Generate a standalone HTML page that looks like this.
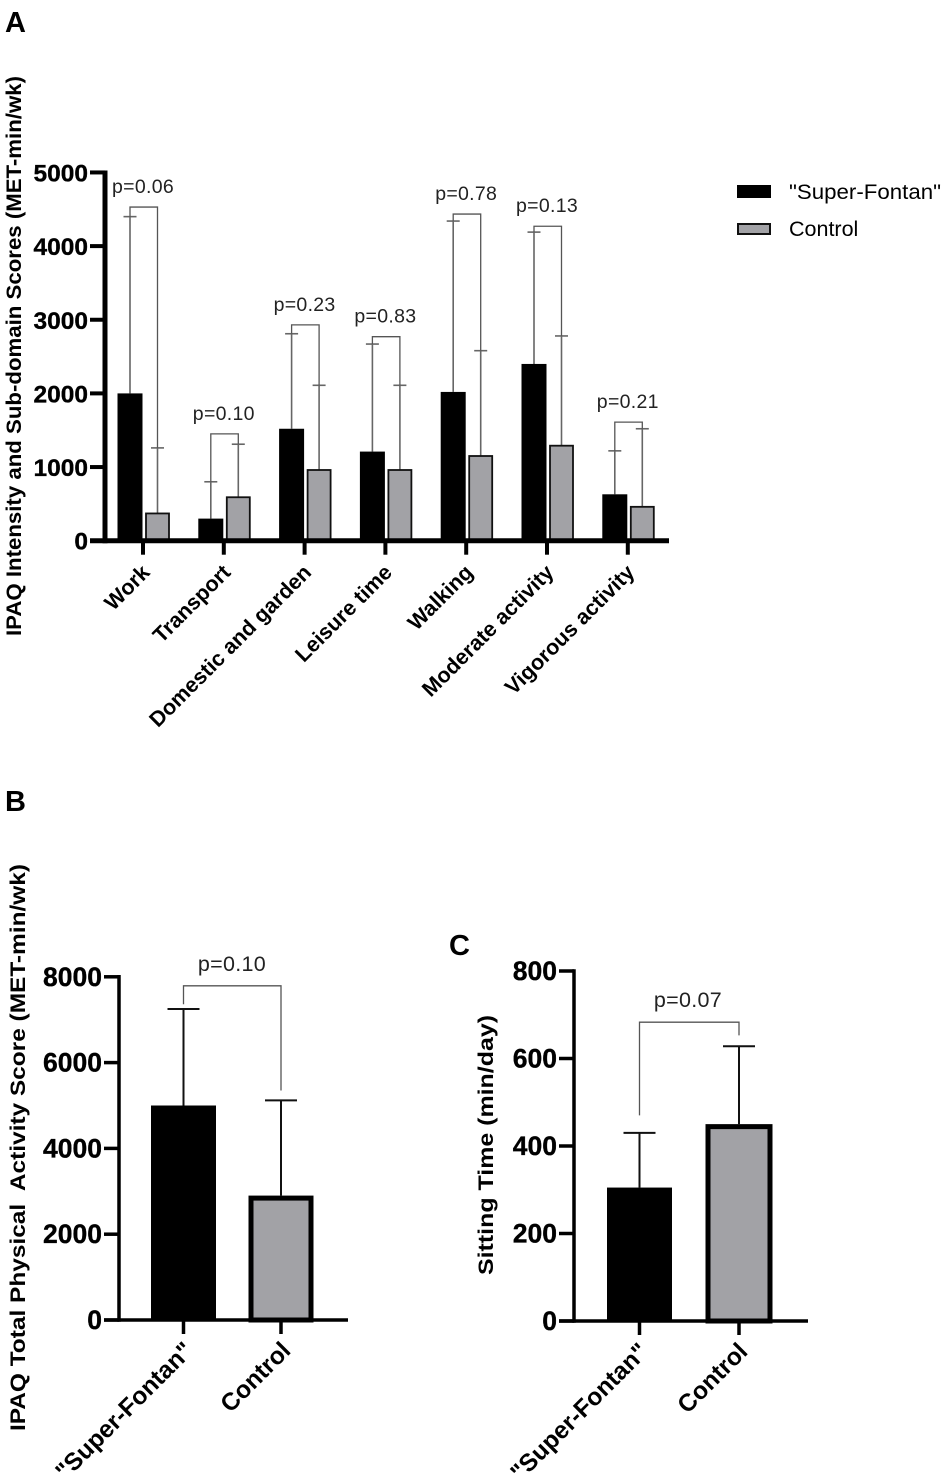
<!DOCTYPE html>
<html lang="en">
<head>
<meta charset="utf-8">
<title>IPAQ scores chart</title>
<style>
html,body{margin:0;padding:0;background:#fff;}
svg{display:block;}
text{font-family:"Liberation Sans",sans-serif;fill:#000;}
.tick{font-weight:bold;font-size:24.5px;stroke:#000;stroke-width:.35px;}
.tick-lg{font-weight:bold;font-size:26.5px;stroke:#000;stroke-width:.35px;}
.cat{font-weight:bold;font-size:21.5px;}
.cat-lg{font-weight:bold;font-size:24.5px;}
.title{font-weight:bold;font-size:21px;stroke:none;}
.p{font-size:19.5px;letter-spacing:.3px;fill:#222;}
.p-lg{font-size:21.5px;letter-spacing:.3px;fill:#222;}
.panel{font-weight:bold;font-size:29px;}
.leg{font-size:21.5px;}
</style>
</head>
<body>
<svg id="fig" xmlns="http://www.w3.org/2000/svg" width="945" height="1480" viewBox="0 0 945 1480">
<rect x="0" y="0" width="945" height="1480" fill="#fff"/>
<text class="panel" x="5" y="32">A</text>
<text class="panel" x="5" y="811">B</text>
<text class="panel" x="449" y="955">C</text>
<text class="title" transform="translate(21,636) rotate(-90)" textLength="560" lengthAdjust="spacingAndGlyphs">IPAQ Intensity and Sub-domain Scores (MET-min/wk)</text>
<text class="title" transform="translate(25,1431) rotate(-90)" textLength="567" lengthAdjust="spacingAndGlyphs" xml:space="preserve">IPAQ Total Physical  Activity Score (MET-min/wk)</text>
<text class="title" transform="translate(493,1275) rotate(-90)" textLength="260" lengthAdjust="spacingAndGlyphs">Sitting Time (min/day)</text>
<rect x="737" y="185" width="34" height="13" fill="#000"/>
<text class="leg" x="789" y="199" textLength="152" lengthAdjust="spacingAndGlyphs">"Super-Fontan"</text>
<rect x="738" y="224" width="32" height="10" fill="#a2a2a6" stroke="#111" stroke-width="2"/>
<text class="leg" x="789" y="236">Control</text>
</svg>
<script>
// Panel A data
const categoriesA = ["Work","Transport","Domestic and garden","Leisure time","Walking","Moderate activity","Vigorous activity"];
const superFontanA = [2000,300,1520,1210,2020,2400,630];
const controlA = [370,590,960,960,1150,1290,460];
const superFontanUpperA = [4400,800,2810,2670,4340,4190,1220];
const controlUpperA = [1260,1310,2110,2110,2580,2780,1520];
const bracketTopA = [4530,1450,2930,2770,4435,4270,1610];
const pLabelsA = ["p=0.06","p=0.10","p=0.23","p=0.83","p=0.78","p=0.13","p=0.21"];
const yTicksA = [0,1000,2000,3000,4000,5000];
// Panel B data
const categoriesB = ['"Super-Fontan"',"Control"];
const valuesB = [5000,2900];
const upperB = [7250,5120];
const bracketTopB = [7790];
const bracketEndB = [7360,5350];
const pLabelsB = ["p=0.10"];
const yTicksB = [0,2000,4000,6000,8000];
// Panel C data
const categoriesC = ['"Super-Fontan"',"Control"];
const valuesC = [305,450];
const upperC = [430,628];
const bracketTopC = [683];
const bracketEndC = [470,653];
const pLabelsC = ["p=0.07"];
const yTicksC = [0,200,400,600,800];

const svg = document.getElementById('fig');
const NS = 'http://www.w3.org/2000/svg';
function make(tag, attrs, parent, txt){
  const n = document.createElementNS(NS, tag);
  for (const k in attrs) n.setAttribute(k, attrs[k]);
  if (txt !== undefined) n.textContent = txt;
  parent.appendChild(n);
  return n;
}
function group(parent, name){
  const g = make('g', {}, parent);
  
  
  return g;
}
function label(n, name){
  
  
  return n;
}
function line(p, x1, y1, x2, y2, color, w, name){
  return label(make('line', {x1:x1, y1:y1, x2:x2, y2:y2, stroke:color, 'stroke-width':w}, p), name);
}
function drawAxes(p, cfg){
  const y = cfg.y;
  cfg.ticks.forEach(function(t){
    line(p, cfg.axisX - cfg.tickLen, y(t), cfg.axisX, y(t), '#000', cfg.tickW, 'y-tick-' + t);
    const tl = make('text', {class:cfg.tickClass, x:cfg.axisX - cfg.tickLen - 2, y:y(t) + 9, 'text-anchor':'end'}, p, String(t));
    label(tl, 'y-tick-label-' + t);
  });
  line(p, cfg.axisX, y(cfg.ticks[cfg.ticks.length-1]) - cfg.tickW/2, cfg.axisX, y(0) + cfg.axW/2, '#000', cfg.axW, 'y-axis');
  line(p, cfg.axisX - cfg.tickLen, y(0), cfg.xEnd, y(0), '#000', cfg.axW, 'x-axis');
}

// ---- Panel A ----
const gA = group(svg, 'panel-a-chart');
const yA = function(v){ return 540.7 - v * 0.07365; };
const xA = function(i){ return 143 + i * 80.8; };
categoriesA.forEach(function(c, i){
  const xb = xA(i) - 13, xc = xA(i) + 14.5;
  line(gA, xb, yA(superFontanA[i]), xb, yA(superFontanUpperA[i]), '#666', 1.6, 'error-bar-super-fontan');
  line(gA, xb - 6.5, yA(superFontanUpperA[i]), xb + 6.5, yA(superFontanUpperA[i]), '#666', 1.6, 'error-cap-super-fontan');
  line(gA, xc, yA(controlA[i]), xc, yA(controlUpperA[i]), '#666', 1.6, 'error-bar-control');
  line(gA, xc - 6.5, yA(controlUpperA[i]), xc + 6.5, yA(controlUpperA[i]), '#666', 1.6, 'error-cap-control');
  const br = make('path', {d:'M' + xb + ' ' + yA(superFontanUpperA[i]) + 'V' + yA(bracketTopA[i]) + 'H' + xc + 'V' + yA(controlUpperA[i]), fill:'none', stroke:'#555', 'stroke-width':1.3}, gA);
  label(br, 'significance-bracket');
  const b1 = make('rect', {x:xb - 12.5, y:yA(superFontanA[i]), width:25, height:yA(0) - yA(superFontanA[i]), fill:'#000'}, gA);
  label(b1, 'bar-super-fontan');
  const b2 = make('rect', {x:xc - 11.5, y:yA(controlA[i]), width:23, height:yA(0) - yA(controlA[i]), fill:'#a2a2a6', stroke:'#111', 'stroke-width':1.8}, gA);
  label(b2, 'bar-control');
  const pt = make('text', {class:'p', x:xA(i), y:yA(bracketTopA[i]) - 14, 'text-anchor':'middle'}, gA, pLabelsA[i]);
  label(pt, 'p-value-label');
  line(gA, xA(i), yA(0), xA(i), yA(0) + 14, '#000', 4, 'x-tick');
  const ct = make('text', {class:'cat', 'text-anchor':'end', transform:'translate(' + (xA(i) + 8) + ',' + (yA(0) + 33) + ') rotate(-45)'}, gA, c);
  label(ct, 'x-tick-label');
});
drawAxes(gA, {y:yA, ticks:yTicksA, axisX:105, tickLen:15, tickW:4, axW:5, xEnd:669, tickClass:'tick'});

// ---- Panels B and C ----
function drawSmall(name, cfg){
  const g = group(svg, name);
  const y = cfg.y;
  cfg.cats.forEach(function(c, i){
    const x = cfg.xs(i);
    line(g, x, y(cfg.vals[i]), x, y(cfg.upper[i]), '#111', 2, 'error-bar');
    line(g, x - 16, y(cfg.upper[i]), x + 16, y(cfg.upper[i]), '#111', 2, 'error-cap');
    if (i === 0) {
      const r = make('rect', {x:x - 32.5, y:y(cfg.vals[i]), width:65, height:y(0) - y(cfg.vals[i]), fill:'#000'}, g);
      label(r, 'bar-super-fontan');
    } else {
      const r = make('rect', {x:x - cfg.ctlHalf, y:y(cfg.vals[i]) + 2.5, width:cfg.ctlHalf * 2, height:y(0) - y(cfg.vals[i]) - 2.5, fill:'#a2a2a6', stroke:'#000', 'stroke-width':5}, g);
      label(r, 'bar-control');
    }
    line(g, x, y(0), x, y(0) + 14, '#000', 3.5, 'x-tick');
    const ct = make('text', {class:'cat-lg', 'text-anchor':'end', transform:'translate(' + (x + cfg.catDx) + ',' + (y(0) + 32) + ') rotate(-45)'}, g, c);
    label(ct, 'x-tick-label');
  });
  const x0 = cfg.xs(0), x1 = cfg.xs(1);
  const br = make('path', {d:'M' + x0 + ' ' + y(cfg.bEnd[0]) + 'V' + y(cfg.bTop[0]) + 'H' + x1 + 'V' + y(cfg.bEnd[1]), fill:'none', stroke:'#555', 'stroke-width':1.3}, g);
  label(br, 'significance-bracket');
  const pt = make('text', {class:'p-lg', x:cfg.pX, y:y(cfg.bTop[0]) + cfg.pDy, 'text-anchor':'middle'}, g, cfg.p[0]);
  label(pt, 'p-value-label');
  drawAxes(g, {y:y, ticks:cfg.ticks, axisX:cfg.axisX, tickLen:15, tickW:3.5, axW:3.5, xEnd:cfg.xEnd, tickClass:'tick-lg'});
}
drawSmall('panel-b-chart', {
  y:function(v){ return 1320 - v * 0.0429; },
  xs:function(i){ return 183.5 + i * 97.5; },
  cats:categoriesB, vals:valuesB, upper:upperB, bTop:bracketTopB, bEnd:bracketEndB, p:pLabelsB, ticks:yTicksB,
  axisX:119, xEnd:348, pX:232, pDy:-15, ctlHalf:30, catDx:11
});
drawSmall('panel-c-chart', {
  y:function(v){ return 1321 - v * 0.4375; },
  xs:function(i){ return 639.5 + i * 99.5; },
  cats:categoriesC, vals:valuesC, upper:upperC, bTop:bracketTopC, bEnd:bracketEndC, p:pLabelsC, ticks:yTicksC,
  axisX:574, xEnd:808, pX:688, pDy:-15, ctlHalf:31, catDx:10
});
</script>
</body>
</html>
